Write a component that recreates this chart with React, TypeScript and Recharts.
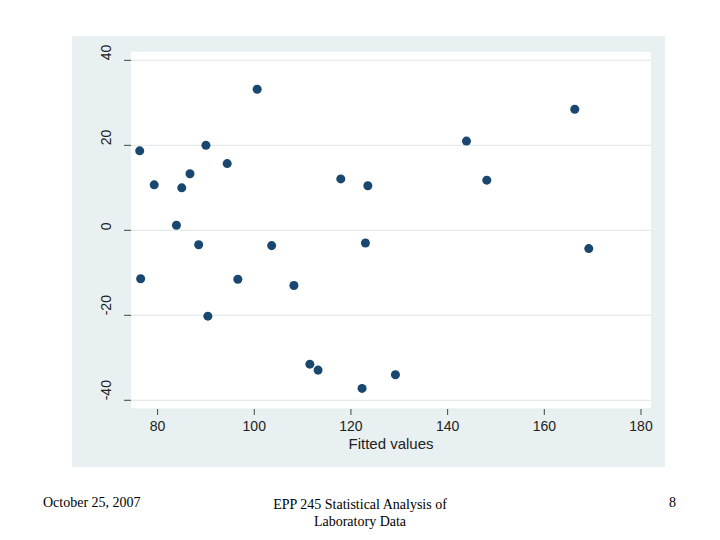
import React from 'react';
import { ScatterChart, Scatter, XAxis, YAxis, ZAxis, CartesianGrid } from 'recharts';

// Fitted values (x) and residuals (y)
const fitted = [
  76.3, 76.5, 79.3, 83.9, 85.0, 86.7, 88.5, 90.0, 90.4, 94.4,
  96.6, 100.6, 103.6, 108.2, 111.5, 113.2, 117.9, 122.3, 123.0, 123.5,
  129.2, 143.9, 148.1, 166.3, 169.2
];
const residuals = [
  18.7, -11.4, 10.7, 1.2, 10.0, 13.3, -3.4, 20.0, -20.2, 15.7,
  -11.5, 33.2, -3.6, -13.0, -31.5, -32.9, 12.1, -37.2, -3.0, 10.5,
  -34.0, 21.0, 11.8, 28.5, -4.3
];
const xTicks = [80, 100, 120, 140, 160, 180];
const yTicks = [-40, -20, 0, 20, 40];

const points = fitted.map((x, i) => ({ x, y: residuals[i] }));

const FONT = '"Liberation Sans", Arial, Helvetica, sans-serif';
const SERIF = '"Liberation Serif", "Times New Roman", serif';

// y labels are rotated and start at the tick, reading upward
const YTick = (props: any) => {
  const { x, y, payload } = props;
  return (
    <text
      x={x}
      y={y}
      transform={`rotate(-90, ${x}, ${y})`}
      textAnchor="start"
      fontSize={14}
      fontFamily={FONT}
      fill="#222"
    >
      {payload.value}
    </text>
  );
};

const App: React.FC = () => {
  return (
    <div style={{ position: 'absolute', left: 0, top: 0, width: 720, height: 540, background: '#fff' }}>
      {/* Stata-style graph region */}
      <div style={{ position: 'absolute', left: 72, top: 36, width: 593, height: 431, background: '#e9f0f2' }} />
      <div style={{ position: 'absolute', left: 0, top: 0 }}>
        <ScatterChart width={720} height={540} margin={{ top: 51, right: 69, bottom: 71, left: 0 }}>
          <CartesianGrid vertical={false} fill="#ffffff" stroke="#e4eaec" strokeWidth={1.2} />
          <XAxis
            type="number"
            dataKey="x"
            domain={[74.5, 182.07]}
            ticks={xTicks}
            allowDataOverflow
            axisLine={false}
            tickLine={{ stroke: '#444' }}
            tickSize={6}
            tickMargin={6}
            height={60}
            tick={{ fontSize: 14, fontFamily: FONT, fill: '#222' }}
            label={{ value: 'Fitted values', position: 'insideBottom', offset: 20, fontSize: 15, fontFamily: FONT, fill: '#222' }}
          />
          <YAxis
            type="number"
            dataKey="y"
            domain={[-42.05, 42.2]}
            ticks={yTicks}
            allowDataOverflow
            axisLine={false}
            tickLine={{ stroke: '#444' }}
            tickSize={7}
            tickMargin={13}
            width={131}
            tick={<YTick />}
          />
          <ZAxis range={[38, 38]} />
          <Scatter data={points} fill="#1a476f" isAnimationActive={false} />
        </ScatterChart>
      </div>
      <div style={{ position: 'absolute', left: 43, top: 495, fontFamily: SERIF, fontSize: 14, color: '#000' }}>
        October 25, 2007
      </div>
      <div style={{ position: 'absolute', left: 230, width: 260, top: 496, textAlign: 'center', lineHeight: '17px', fontFamily: SERIF, fontSize: 14, color: '#000' }}>
        EPP 245 Statistical Analysis of<br />Laboratory Data
      </div>
      <div style={{ position: 'absolute', left: 669, top: 495, fontFamily: SERIF, fontSize: 14, color: '#000' }}>
        8
      </div>
    </div>
  );
};

export default App;
